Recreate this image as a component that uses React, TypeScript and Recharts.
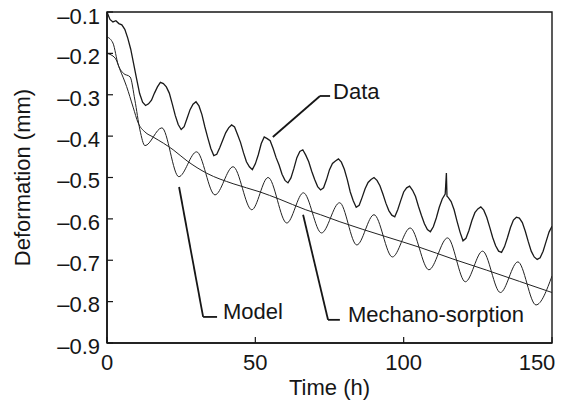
import {
  Label,
  Line,
  LineChart,
  ReferenceArea,
  ReferenceDot,
  ReferenceLine,
  XAxis,
  YAxis,
} from "recharts";

// measured deformation, [hour, mm]
const measured: [number, number][] = [
  [0, -0.1], [1, -0.118], [2, -0.124], [3, -0.121], [4, -0.128], [5, -0.131],
  [6, -0.142], [7, -0.163], [8, -0.19], [9, -0.226], [10, -0.262], [11, -0.297],
  [12, -0.318], [13, -0.326], [14, -0.322], [15, -0.313], [16, -0.296], [17, -0.281],
  [18, -0.27], [19, -0.273], [20, -0.281], [21, -0.296], [22, -0.322], [23, -0.35],
  [24, -0.372], [25, -0.384], [26, -0.377], [27, -0.357], [28, -0.336], [29, -0.323],
  [30, -0.317], [31, -0.327], [32, -0.348], [33, -0.378], [34, -0.405], [35, -0.43],
  [36, -0.447], [37, -0.444], [38, -0.428], [39, -0.41], [40, -0.392], [41, -0.38],
  [42, -0.373], [43, -0.378], [44, -0.396], [45, -0.415], [46, -0.44], [47, -0.462],
  [48, -0.474], [49, -0.481], [50, -0.467], [51, -0.445], [52, -0.418], [53, -0.402],
  [54, -0.406], [55, -0.411], [56, -0.43], [57, -0.452], [58, -0.47], [59, -0.492],
  [60, -0.507], [61, -0.513], [62, -0.501], [63, -0.478], [64, -0.452], [65, -0.437],
  [66, -0.433], [67, -0.446], [68, -0.462], [69, -0.485], [70, -0.505], [71, -0.522],
  [72, -0.53], [73, -0.525], [74, -0.505], [75, -0.481], [76, -0.466], [77, -0.46],
  [78, -0.455], [79, -0.463], [80, -0.48], [81, -0.505], [82, -0.535], [83, -0.556],
  [84, -0.572], [85, -0.567], [86, -0.548], [87, -0.527], [88, -0.512], [89, -0.505],
  [90, -0.5], [91, -0.507], [92, -0.52], [93, -0.54], [94, -0.562], [95, -0.58],
  [96, -0.591], [97, -0.595], [98, -0.578], [99, -0.556], [100, -0.535], [101, -0.525],
  [102, -0.521], [103, -0.531], [104, -0.546], [105, -0.57], [106, -0.592], [107, -0.612],
  [108, -0.626], [109, -0.631], [110, -0.619], [111, -0.598], [112, -0.572], [113, -0.552],
  [114, -0.54], [114.4, -0.489], [114.6, -0.545], [115, -0.548], [116, -0.558], [117, -0.578],
  [118, -0.606], [119, -0.632], [120, -0.653], [121, -0.647], [122, -0.628], [123, -0.604],
  [124, -0.585], [125, -0.576], [126, -0.571], [127, -0.579], [128, -0.596], [129, -0.62],
  [130, -0.645], [131, -0.665], [132, -0.678], [133, -0.681], [134, -0.667], [135, -0.645],
  [136, -0.621], [137, -0.603], [138, -0.596], [139, -0.598], [140, -0.609], [141, -0.63],
  [142, -0.655], [143, -0.678], [144, -0.692], [145, -0.698], [146, -0.694], [147, -0.678],
  [148, -0.655], [149, -0.632], [150, -0.618],
];

// model prediction (turning points + early shoulder)
const model: [number, number][] = [
  [0, -0.16], [2, -0.175], [3.8, -0.228], [5.5, -0.248], [7.8, -0.257], [9.4, -0.313],
  [11.1, -0.385], [12.8, -0.423], [18.5, -0.38], [24.2, -0.498], [30.2, -0.438],
  [36.4, -0.542], [42.5, -0.474], [48.8, -0.578], [54.3, -0.5], [60.6, -0.61],
  [66.2, -0.537], [72.3, -0.634], [78.4, -0.561], [84.2, -0.663], [90, -0.59],
  [96.2, -0.692], [102.2, -0.622], [108.5, -0.723], [114.8, -0.646], [120.8, -0.752],
  [126.6, -0.678], [132.6, -0.778], [138.5, -0.704], [144.6, -0.808], [150, -0.738],
];

// mechano-sorption component
const mechano: [number, number][] = [
  [0, -0.2], [2.7, -0.211], [4.4, -0.24], [6.6, -0.28], [8.8, -0.33], [10.5, -0.368],
  [12.8, -0.39], [15.5, -0.402], [19, -0.417], [22.3, -0.433], [27, -0.46],
  [33.7, -0.49], [42.5, -0.515], [51.6, -0.535], [58, -0.552], [67, -0.578],
  [72, -0.59], [78.5, -0.607], [94, -0.643], [105.5, -0.669], [116.6, -0.697],
  [128, -0.724], [139, -0.751], [150, -0.778],
];

const xTicks = [0, 50, 100, 150];
const yTicks = [-0.9, -0.8, -0.7, -0.6, -0.5, -0.4, -0.3, -0.2, -0.1];

// callouts: leader polyline and text anchor, in data units
const callouts = [
  { text: "Data", path: [[55.9, -0.402], [71.8, -0.303], [75.2, -0.303]], at: [76.2, -0.292] },
  { text: "Model", path: [[24.3, -0.523], [32.4, -0.837], [37.1, -0.837]], at: [39.1, -0.823] },
  {
    text: "Mechano-sorption",
    path: [[66.1, -0.59], [74.5, -0.844], [78.5, -0.844]],
    at: [81.2, -0.831],
  },
];

const toRows = (pts: [number, number][]) => pts.map(([t, v]) => ({ t, v }));

const FONT = "'Liberation Sans', Arial, Helvetica, sans-serif";
const INK = "#161616";
const FS = 22;

// x tick label; the last one is pulled inside the frame like in the print
function XTick(props: any) {
  const { x, y, payload } = props;
  const shift = payload.value === 150 ? -15 : 0;
  return (
    <text
      x={x + shift}
      y={y}
      dy="0.71em"
      textAnchor="middle"
      fill={INK}
      fontSize={FS}
      fontFamily={FONT}
    >
      {payload.value}
    </text>
  );
}

export default function App() {
  return (
    <div style={{ position: "absolute", left: 0, top: 0, background: "#fff" }}>
      <LineChart
        width={564}
        height={405}
        margin={{ top: 12, right: 12, left: 0, bottom: 0 }}
        style={{ fontFamily: FONT }}
      >
        <XAxis
          type="number"
          dataKey="t"
          domain={[0, 150]}
          ticks={xTicks}
          height={62}
          tickSize={-6}
          tickMargin={17}
          axisLine={{ stroke: INK, strokeWidth: 1.6 }}
          tickLine={{ stroke: INK, strokeWidth: 1.2 }}
          tick={<XTick />}
          allowDataOverflow
        >
          <Label
            value="Time (h)"
            position="insideBottom"
            offset={10}
            fill={INK}
            fontSize={FS}
            fontFamily={FONT}
          />
        </XAxis>
        <YAxis
          type="number"
          dataKey="v"
          domain={[-0.9, -0.1]}
          ticks={yTicks}
          width={107}
          tickSize={-6}
          tickMargin={13}
          axisLine={{ stroke: INK, strokeWidth: 1.6 }}
          tickLine={{ stroke: INK, strokeWidth: 1.2 }}
          tick={{ fill: INK, fontSize: FS, fontFamily: FONT, dy: 3 }}
          tickFormatter={(v: number) => "\u2013" + Math.abs(v).toFixed(1)}
          allowDataOverflow
        >
          <Label
            value="Deformation (mm)"
            angle={-90}
            position="center"
            dx={-31}
            fill={INK}
            fontSize={FS}
            fontFamily={FONT}
          />
        </YAxis>
        <ReferenceArea
          x1={0}
          x2={150}
          y1={-0.9}
          y2={-0.1}
          fill="none"
          stroke={INK}
          strokeWidth={1.4}
          ifOverflow="visible"
        />
        <Line
          data={toRows(mechano)}
          dataKey="v"
          type="monotone"
          stroke="#222"
          strokeWidth={1}
          dot={false}
          isAnimationActive={false}
        />
        <Line
          data={toRows(model)}
          dataKey="v"
          type="monotone"
          stroke="#222"
          strokeWidth={1}
          dot={false}
          isAnimationActive={false}
        />
        <Line
          data={toRows(measured)}
          dataKey="v"
          type="linear"
          stroke="#1a1a1a"
          strokeWidth={1.3}
          dot={false}
          isAnimationActive={false}
        />
        {callouts.map((c) =>
          c.path.slice(1).map((p, i) => (
            <ReferenceLine
              key={c.text + i}
              segment={[
                { x: c.path[i][0], y: c.path[i][1] },
                { x: p[0], y: p[1] },
              ]}
              stroke={INK}
              strokeWidth={1.8}
            />
          ))
        )}
        {callouts.map((c) => (
          <ReferenceDot
            key={c.text}
            x={c.at[0]}
            y={c.at[1]}
            r={0}
            stroke="none"
            fill="none"
            label={{
              value: c.text,
              position: "right",
              offset: 0,
              fill: INK,
              fontSize: FS,
              fontFamily: FONT,
            }}
          />
        ))}
      </LineChart>
    </div>
  );
}
